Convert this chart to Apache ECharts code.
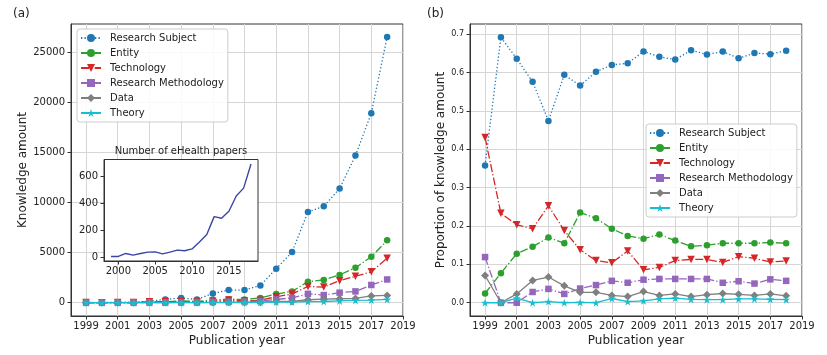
<!DOCTYPE html>
<html>
<head>
<meta charset="utf-8">
<script src="https://cdn.jsdelivr.net/npm/echarts@6/dist/echarts.min.js"></script>
<style>
html,body{margin:0;padding:0;background:#fff;}
#chart{width:827px;height:355px;}
</style>
</head>
<body>
<div id="chart"></div>
<script>
// ---- data ----
const years = [1999,2000,2001,2002,2003,2004,2005,2006,2007,2008,2009,2010,2011,2012,2013,2014,2015,2016,2017,2018];
const seriesNames = ['Research Subject','Entity','Technology','Research Methodology','Data','Theory'];

// (a) knowledge amount
const amtResearchSubject = [15,9,55,40,156,330,460,330,930,1260,1260,1730,3400,5060,9060,9630,11400,14700,18930,26560];
const amtEntity = [1,1,11,10,56,86,191,121,290,351,321,480,869,1130,2100,2279,2774,3500,4586,6230];
const amtTechnology = [18,3,17,13,83,104,112,60,156,273,165,248,590,869,1620,1560,2200,2640,3080,4450];
const amtMethodology = [5,0,0,2,12,13,30,25,86,105,115,167,332,477,880,765,1002,1129,1770,2320];
const amtData = [3,0,2,4,22,24,22,15,29,32,56,51,123,123,294,353,394,429,672,728];
const amtTheory = [0,0,1,0,1,0,1,0,16,6,10,27,64,69,112,118,179,226,263,323];

// (b) proportion of knowledge amount
const propResearchSubject = [0.358,0.692,0.636,0.576,0.474,0.594,0.566,0.602,0.620,0.624,0.655,0.641,0.634,0.658,0.647,0.655,0.637,0.651,0.648,0.657];
const propEntity = [0.024,0.077,0.128,0.146,0.170,0.155,0.235,0.220,0.193,0.174,0.167,0.178,0.162,0.147,0.150,0.155,0.155,0.155,0.157,0.155];
const propTechnology = [0.431,0.233,0.203,0.193,0.253,0.188,0.138,0.110,0.104,0.135,0.086,0.092,0.110,0.113,0.113,0.105,0.120,0.116,0.106,0.109];
const propMethodology = [0.119,0.0,0.0,0.028,0.036,0.023,0.037,0.046,0.057,0.052,0.060,0.062,0.062,0.062,0.062,0.052,0.056,0.050,0.061,0.057];
const propData = [0.071,0.0,0.023,0.058,0.067,0.044,0.027,0.027,0.019,0.016,0.029,0.019,0.023,0.016,0.021,0.024,0.022,0.019,0.023,0.018];
const propTheory = [0,0,0.012,0,0.003,0,0.001,0,0.011,0.003,0.005,0.010,0.012,0.009,0.008,0.008,0.010,0.010,0.009,0.008];

// inset: number of eHealth papers
const papers = [4,4,26,14,26,36,38,23,36,51,46,60,112,167,300,288,340,453,512,692];

// tick labels
const yearTicks = [1999,2001,2003,2005,2007,2009,2011,2013,2015,2017,2019];
const amountTicks = [0,5000,10000,15000,20000,25000];
const propTicks = [0,0.1,0.2,0.3,0.4,0.5,0.6,0.7];
const insetYearTicks = [2000,2005,2010,2015];
const insetTicks = [0,200,400,600];

// ---- styles ----
const FONT = 'DejaVu Sans';
const TXT = '#222';
const colors = ['#1f77b4','#2ca02c','#d62728','#9467bd','#7f7f7f','#17becf'];
const DOT = [1.3,2.2];
const DASHDOT = [8,2.2,1.3,2.2];
const lineTypes = [DOT, DASHDOT, DASHDOT, DASHDOT, 'solid', 'solid'];
const STAR = 'path://M100,0 L122.45,69.1 L195.1,69.1 L136.33,111.8 L158.8,180.9 L100,138.2 L41.2,180.9 L63.67,111.8 L4.9,69.1 L77.55,69.1 Z';
const TRI_DOWN = 'path://M0,0 L10,0 L5,9 Z';
const symbols = ['circle', 'circle', TRI_DOWN, 'rect', 'diamond', STAR];
const symbolSizes = [6.5, 6.5, 7.5, 6.5, 8, 8];

const pair = (vals) => years.map((y, i) => [y, vals[i]]);

function makeSeries(valsList, axisIdx) {
  return valsList.map((vals, k) => ({
    name: seriesNames[k],
    type: 'line',
    xAxisIndex: axisIdx, yAxisIndex: axisIdx,
    data: pair(vals),
    symbol: symbols[k],
    symbolSize: symbolSizes[k],
    showSymbol: true,
    showAllSymbol: true,
    z: 2 + k * 0.01,
    itemStyle: {color: colors[k], borderWidth: 0},
    lineStyle: {color: colors[k], width: 1.3, type: lineTypes[k], cap: 'butt'},
    emphasis: {disabled: true},
    silent: true
  }));
}

const tickStyle = {show: true, length: 3.5, lineStyle: {color: '#333', width: 1}};
const axisLineStyle = {show: true, onZero: false, lineStyle: {color: '#333', width: 1}};
const gridLine = {show: true, lineStyle: {color: '#d6d6d6', width: 1}};
const lbl = (size, margin, fmt, custom) => ({
  fontFamily: FONT, fontSize: size, color: TXT, margin: margin,
  formatter: fmt, customValues: custom, hideOverlap: false, showMinLabel: true, showMaxLabel: true
});

function xAxisMain(idx) {
  return {
    gridIndex: idx, type: 'value', min: 1998.05, max: 2019,
    axisLine: axisLineStyle,
    axisTick: Object.assign({customValues: yearTicks}, tickStyle),
    axisLabel: lbl(10, 5, v => String(v), yearTicks),
    splitLine: gridLine
  };
}

const legendBase = {
  orient: 'vertical',
  data: seriesNames,
  selectedMode: false,
  itemWidth: 20, itemHeight: 10, itemGap: 3,
  backgroundColor: 'rgba(255,255,255,0.85)',
  borderColor: '#cccccc', borderWidth: 1, borderRadius: 3,
  textStyle: {fontFamily: FONT, fontSize: 10, color: TXT, lineHeight: 12, padding: [0,0,0,4]}
};

const option = {
  animation: false,
  backgroundColor: '#fff',
  grid: [
    {left: 71, top: 24, width: 332, height: 292, show: true, backgroundColor: 'transparent', borderColor: '#333', borderWidth: 1},
    {left: 470, top: 24, width: 332, height: 292, show: true, backgroundColor: 'transparent', borderColor: '#333', borderWidth: 1},
    {left: 104, top: 159.5, width: 154, height: 101.5, show: true, backgroundColor: '#ffffff', borderColor: '#333', borderWidth: 1, z: 5}
  ],
  xAxis: [
    xAxisMain(0),
    xAxisMain(1),
    {
      gridIndex: 2, type: 'value', min: 1998.05, max: 2018.95, z: 6,
      axisLine: axisLineStyle,
      axisTick: Object.assign({customValues: insetYearTicks}, tickStyle),
      axisLabel: lbl(10, 5, v => String(v), insetYearTicks),
      splitLine: {show: false}
    }
  ],
  yAxis: [
    {
      gridIndex: 0, type: 'value', min: -1330, max: 27850,
      axisLine: axisLineStyle,
      axisTick: Object.assign({customValues: amountTicks}, tickStyle),
      axisLabel: lbl(10, 6, v => String(v), amountTicks),
      splitLine: gridLine
    },
    {
      gridIndex: 1, type: 'value', min: -0.0346, max: 0.7266,
      axisLine: axisLineStyle,
      axisTick: Object.assign({customValues: propTicks}, tickStyle),
      axisLabel: lbl(8, 6, v => v.toFixed(1), propTicks),
      splitLine: gridLine
    },
    {
      gridIndex: 2, type: 'value', min: -30, max: 725, z: 6,
      axisLine: axisLineStyle,
      axisTick: Object.assign({customValues: insetTicks}, tickStyle),
      axisLabel: lbl(10, 6, v => String(v), insetTicks),
      splitLine: {show: false}
    }
  ],
  legend: [
    Object.assign({left: 77, top: 29, padding: [3, 4, 3, 3]}, legendBase),
    Object.assign({left: 646, top: 124, padding: [3, 4, 3, 3]}, legendBase)
  ],
  series: [
    ...makeSeries([amtResearchSubject, amtEntity, amtTechnology, amtMethodology, amtData, amtTheory], 0),
    ...makeSeries([propResearchSubject, propEntity, propTechnology, propMethodology, propData, propTheory], 1),
    {
      name: 'Number of eHealth papers',
      type: 'line', xAxisIndex: 2, yAxisIndex: 2, z: 7,
      data: pair(papers),
      showSymbol: false, symbol: 'none',
      lineStyle: {color: '#3c45a5', width: 1.4},
      emphasis: {disabled: true}, silent: true
    }
  ],
  graphic: [
    {type: 'text', left: 13, top: 8, style: {text: '(a)', font: '12px "DejaVu Sans"', fill: TXT}},
    {type: 'text', left: 427, top: 8, style: {text: '(b)', font: '12px "DejaVu Sans"', fill: TXT}},
    {type: 'text', x: 237, y: 341, style: {text: 'Publication year', font: '12px "DejaVu Sans"', fill: TXT, textAlign: 'center', textVerticalAlign: 'middle'}},
    {type: 'text', x: 636, y: 341, style: {text: 'Publication year', font: '12px "DejaVu Sans"', fill: TXT, textAlign: 'center', textVerticalAlign: 'middle'}},
    {type: 'text', x: 23, y: 170, rotation: Math.PI / 2, style: {text: 'Knowledge amount', font: '12px "DejaVu Sans"', fill: TXT, textAlign: 'center', textVerticalAlign: 'middle'}},
    {type: 'text', x: 441, y: 170, rotation: Math.PI / 2, style: {text: 'Proportion of knowledge amount', font: '12px "DejaVu Sans"', fill: TXT, textAlign: 'center', textVerticalAlign: 'middle'}},
    {type: 'text', x: 181, y: 151, z: 10, style: {text: 'Number of eHealth papers', font: '10px "DejaVu Sans"', fill: TXT, textAlign: 'center', textVerticalAlign: 'middle'}}
  ]
};

const chart = echarts.init(document.getElementById('chart'), null, {renderer: 'canvas'});
chart.setOption(option);
</script>
</body>
</html>
